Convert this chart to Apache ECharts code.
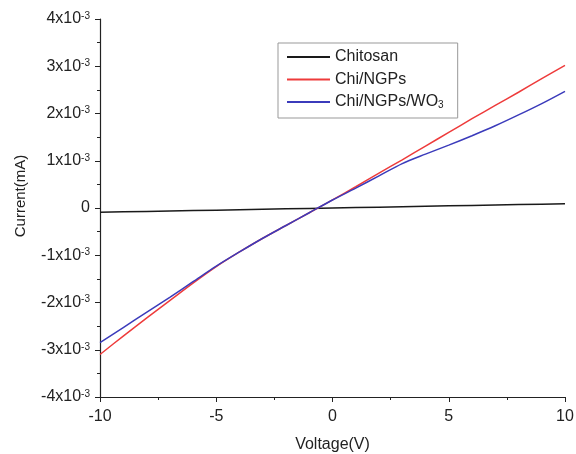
<!DOCTYPE html>
<html>
<head>
<meta charset="utf-8">
<script src="https://cdn.jsdelivr.net/npm/echarts@6/dist/echarts.min.js"></script>
<style>html,body{margin:0;padding:0;background:#fff}#c{width:576px;height:454px}</style>
</head>
<body>
<div id="c"></div>
<script>
const voltage = [-10,-9,-8,-7,-6,-5,-4,-3,-2,-1,0,1,2,3,4,5,6,7,8,9,10];
// current values in units of 1e-3 mA
const chitosan = [-0.09,-0.081,-0.072,-0.063,-0.054,-0.045,-0.036,-0.027,-0.018,-0.009,0.0,0.009,0.018,0.027,0.036,0.045,0.054,0.063,0.072,0.081,0.09];
const chiNGPs = [-3.10,-2.71,-2.33,-1.96,-1.59,-1.24,-0.93,-0.64,-0.37,-0.10,0.17,0.45,0.74,1.02,1.31,1.60,1.89,2.17,2.45,2.74,3.02];
const chiNGPsWO3 = [-2.85,-2.53,-2.21,-1.89,-1.56,-1.23,-0.93,-0.64,-0.37,-0.10,0.17,0.42,0.68,0.94,1.14,1.33,1.53,1.74,1.97,2.21,2.47];
const seriesNames = ['Chitosan','Chi/NGPs','Chi/NGPs/WO3'];
const xTicks = [-10,-5,0,5,10];
const yTicks = [-4,-3,-2,-1,0,1,2,3,4];

const scale = 1e-3;
function pairs(arr){ return voltage.map((v,i)=>[v, arr[i]*scale]); }

const chart = echarts.init(document.getElementById('c'), null, {renderer:'canvas'});
const font = 'Liberation Sans, Arial, sans-serif';
const txt = '#222';
chart.setOption({
  animation:false,
  grid:{left:100,right:11,top:19,bottom:57,containLabel:false,outerBoundsMode:'none'},
  legend:{
    orient:'vertical', left:278, top:43,
    data:seriesNames,
    icon:'rect', itemWidth:43, itemHeight:2, itemGap:6.5,
    borderColor:'#999', borderWidth:1, padding:[6,14,8,9],
    textStyle:{fontFamily:font,fontSize:16,color:txt,
      rich:{n:{fontFamily:font,fontSize:16,color:txt,lineHeight:16},
            sub:{fontFamily:font,fontSize:10,color:txt,verticalAlign:'bottom',lineHeight:9}}},
    formatter:function(name){
      if(name==='Chi/NGPs/WO3') return '{n|Chi/NGPs/WO}{sub|3}';
      return '{n|'+name+'}';
    }
  },
  xAxis:{
    type:'value', min:-10, max:10, interval:5,
    name:'Voltage(V)', nameLocation:'middle', nameGap:40,
    nameTextStyle:{fontFamily:font,fontSize:16,color:txt},
    axisLine:{onZero:false,lineStyle:{color:'#222',width:1.2}},
    axisTick:{length:5,lineStyle:{color:'#222'}},
    minorTick:{show:true,splitNumber:2,length:3,lineStyle:{color:'#222'}},
    splitLine:{show:false},
    axisLabel:{fontFamily:font,fontSize:16,color:txt,margin:12,
      formatter:function(v){return xTicks.indexOf(v)>=0? String(v):'';}}
  },
  yAxis:{
    type:'value', min:-4*scale, max:4*scale, interval:1*scale,
    name:'Current(mA)', nameLocation:'middle', nameGap:72, nameRotate:90,
    nameTextStyle:{fontFamily:font,fontSize:15,color:txt,padding:[0,0,0,24]},
    axisLine:{show:true,onZero:false,lineStyle:{color:'#222',width:1.2}},
    axisTick:{show:true,length:5,lineStyle:{color:'#222'}},
    minorTick:{show:true,splitNumber:2,length:3,lineStyle:{color:'#222'}},
    splitLine:{show:false},
    axisLabel:{fontFamily:font,fontSize:16,color:txt,margin:10,
      rich:{b:{fontFamily:font,fontSize:16,color:txt,lineHeight:16},
            s:{fontFamily:font,fontSize:10,color:txt,verticalAlign:'top',lineHeight:9}},
      formatter:function(v){
        const k = Math.round(v/scale);
        if(k===0) return '{b|0}';
        return '{b|'+k+'x10}{s|-3}';
      }}
  },
  series:[
    {name:seriesNames[0],type:'line',data:pairs(chitosan),showSymbol:false,lineStyle:{color:'#1a1a1a',width:1.5},itemStyle:{color:'#1a1a1a'}},
    {name:seriesNames[1],type:'line',data:pairs(chiNGPs),smooth:0.3,showSymbol:false,lineStyle:{color:'#ee3b3b',width:1.5},itemStyle:{color:'#ee3b3b'}},
    {name:seriesNames[2],type:'line',data:pairs(chiNGPsWO3),smooth:0.3,showSymbol:false,lineStyle:{color:'#3b3bbb',width:1.5},itemStyle:{color:'#3b3bbb'}}
  ]
});
</script>
</body>
</html>
